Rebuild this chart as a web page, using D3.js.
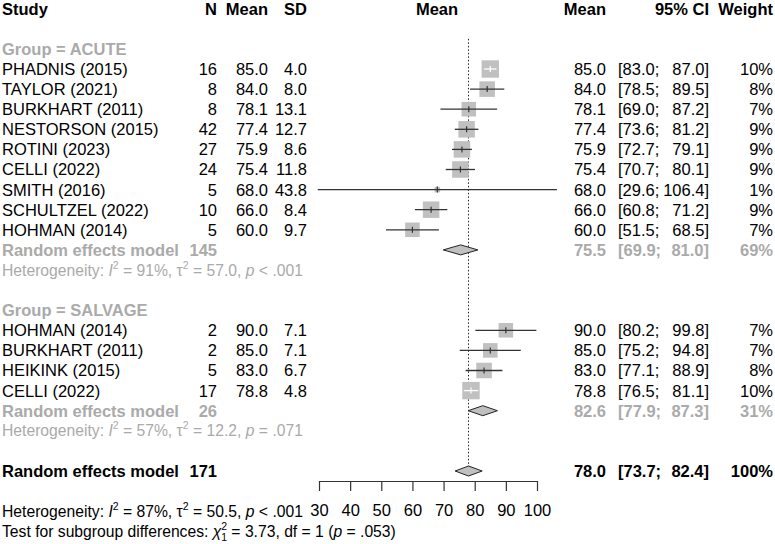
<!DOCTYPE html>
<html>
<head>
<meta charset="utf-8">
<script src="https://cdn.jsdelivr.net/npm/d3@7"></script>
<style>
  body { margin: 0; background: #fff; }
  text { font-family: "Liberation Sans", Arial, sans-serif; font-size: 16.5px; }
</style>
</head>
<body>
<div id="content"></div>
<script>
// study level data, group ACUTE
var acuteStudy = ['PHADNIS (2015)', 'TAYLOR (2021)', 'BURKHART (2011)', 'NESTORSON (2015)', 'ROTINI (2023)',
                  'CELLI (2022)', 'SMITH (2016)', 'SCHULTZEL (2022)', 'HOHMAN (2014)'];
var acuteN = [16, 8, 8, 42, 27, 24, 5, 10, 5];
var acuteMean = [85.0, 84.0, 78.1, 77.4, 75.9, 75.4, 68.0, 66.0, 60.0];
var acuteSD = [4.0, 8.0, 13.1, 12.7, 8.6, 11.8, 43.8, 8.4, 9.7];
var acuteLower = [83.0, 78.5, 69.0, 73.6, 72.7, 70.7, 29.6, 60.8, 51.5];
var acuteUpper = [87.0, 89.5, 87.2, 81.2, 79.1, 80.1, 106.4, 71.2, 68.5];
var acuteWeight = [10, 8, 7, 9, 9, 9, 1, 9, 7];

// study level data, group SALVAGE
var salvageStudy = ['HOHMAN (2014)', 'BURKHART (2011)', 'HEIKINK (2015)', 'CELLI (2022)'];
var salvageN = [2, 2, 5, 17];
var salvageMean = [90.0, 85.0, 83.0, 78.8];
var salvageSD = [7.1, 7.1, 6.7, 4.8];
var salvageLower = [80.2, 75.2, 77.1, 76.5];
var salvageUpper = [99.8, 94.8, 88.9, 81.1];
var salvageWeight = [7, 7, 8, 10];

// pooled estimates: acute, salvage, overall
var modelN = [145, 26, 171];
var modelMean = [75.5, 82.6, 78.0];
var modelLower = [69.9, 77.9, 73.7];
var modelUpper = [81.0, 87.3, 82.4];
var modelWeight = [69, 31, 100];

// heterogeneity: I2, tau2, p
var hetI2 = ['91%', '57%', '87%'];
var hetTau2 = ['57.0', '12.2', '50.5'];
var hetP = ['< .001', '= .071', '< .001'];

var axisTicks = [30, 40, 50, 60, 70, 80, 90, 100];

(function() {

  var grey = '#aaaaaa';
  var sqFill = '#c0c0c0';

  var svg = d3.select('#content')
      .append('svg')
      .attr('width', 775)
      .attr('height', 544);

  // x scale for the plot column
  var x = d3.scaleLinear().domain([30, 100]).range([319, 537]);

  // row positions
  var row = function(k) { return 8.7 + 20.1 * k; };

  // column positions (right aligned unless noted)
  var col = {study: 2, n: 217, mean: 268, sd: 307, est: 606, ciL: 618, ciR: 709, w: 773, plot: 437};

  function txt(xp, yp, s, anchor, opts) {
    opts = opts || {};
    return svg.append('text')
        .attr('x', xp)
        .attr('y', yp)
        .attr('dy', '0.36em')
        .style('text-anchor', anchor)
        .style('font-weight', opts.bold ? 'bold' : 'normal')
        .attr('fill', opts.color || '#000')
        .text(s);
  }

  function ciText(yp, est, lo, hi, w, opts) {
    txt(col.est, yp, est.toFixed(1), 'end', opts);
    txt(col.ciL, yp, '[' + lo.toFixed(1) + ';', 'start', opts);
    txt(col.ciR, yp, hi.toFixed(1) + ']', 'end', opts);
    txt(col.w, yp, w + '%', 'end', opts);
  }

  // header
  txt(col.study, row(0), 'Study', 'start', {bold: true});
  txt(col.n, row(0), 'N', 'end', {bold: true});
  txt(col.mean, row(0), 'Mean', 'end', {bold: true});
  txt(col.sd, row(0), 'SD', 'end', {bold: true});
  txt(col.plot, row(0), 'Mean', 'middle', {bold: true});
  txt(col.est, row(0), 'Mean', 'end', {bold: true});
  txt(col.ciR, row(0), '95% CI', 'end', {bold: true});
  txt(col.w, row(0), 'Weight', 'end', {bold: true});

  // reference line at overall mean
  svg.append('line')
      .attr('x1', x(modelMean[2])).attr('x2', x(modelMean[2]))
      .attr('y1', row(1.5)).attr('y2', row(23))
      .attr('stroke', '#222')
      .attr('stroke-width', 1)
      .attr('stroke-dasharray', '1.5,2');

  function studyRow(k, name, n, m, sd, lo, hi, w) {
    var yp = row(k);
    txt(col.study, yp, name, 'start');
    txt(col.n, yp, n, 'end');
    txt(col.mean, yp, m.toFixed(1), 'end');
    txt(col.sd, yp, sd.toFixed(1), 'end');
    ciText(yp, m, lo, hi, w);

    var half = 2.75 * Math.sqrt(w);
    var inside = x(lo) >= x(m) - half && x(hi) <= x(m) + half;
    var lineCol = inside ? '#fff' : '#333';
    svg.append('rect')
        .attr('x', x(m) - half)
        .attr('y', yp - half)
        .attr('width', half * 2)
        .attr('height', half * 2)
        .attr('fill', sqFill);
    svg.append('line')
        .attr('x1', x(lo)).attr('x2', x(hi))
        .attr('y1', yp).attr('y2', yp)
        .attr('stroke', lineCol)
        .attr('stroke-width', 1.3);
    svg.append('line')
        .attr('x1', x(m)).attr('x2', x(m))
        .attr('y1', yp - 3).attr('y2', yp + 3)
        .attr('stroke', lineCol)
        .attr('stroke-width', 1.2);
  }

  function diamond(yp, m, lo, hi) {
    var pts = [[x(lo), yp], [x(m), yp - 5], [x(hi), yp], [x(m), yp + 5]];
    svg.append('path')
        .attr('d', d3.line()(pts) + 'Z')
        .attr('fill', sqFill)
        .attr('stroke', '#222')
        .attr('stroke-width', 1);
  }

  function modelRow(k, i, color) {
    var opts = {bold: true, color: color};
    txt(col.study, row(k), 'Random effects model', 'start', opts);
    txt(col.n, row(k), modelN[i], 'end', opts);
    ciText(row(k), modelMean[i], modelLower[i], modelUpper[i], modelWeight[i], opts);
    diamond(row(k), modelMean[i], modelLower[i], modelUpper[i]);
  }

  function hetRow(k, i, color) {
    var t = svg.append('text')
        .attr('x', col.study)
        .attr('y', row(k))
        .attr('dy', '0.36em')
        .style('font-size', '15.7px')
        .attr('fill', color);
    t.append('tspan').text('Heterogeneity: ');
    t.append('tspan').style('font-style', 'italic').text('I');
    t.append('tspan').attr('dy', -7).style('font-size', '10.5px').text('2');
    t.append('tspan').attr('dy', 7).text(' = ' + hetI2[i] + ', \u03c4');
    t.append('tspan').attr('dy', -7).style('font-size', '10.5px').text('2');
    t.append('tspan').attr('dy', 7).text(' = ' + hetTau2[i] + ', ');
    t.append('tspan').style('font-style', 'italic').text('p');
    t.append('tspan').text(' ' + hetP[i]);
  }

  // group ACUTE
  txt(col.study, row(2), 'Group = ACUTE', 'start', {bold: true, color: grey});
  acuteStudy.forEach(function(s, i) {
    studyRow(3 + i, s, acuteN[i], acuteMean[i], acuteSD[i], acuteLower[i], acuteUpper[i], acuteWeight[i]);
  });
  modelRow(12, 0, grey);
  hetRow(13, 0, grey);

  // group SALVAGE
  txt(col.study, row(15), 'Group = SALVAGE', 'start', {bold: true, color: grey});
  salvageStudy.forEach(function(s, i) {
    studyRow(16 + i, s, salvageN[i], salvageMean[i], salvageSD[i], salvageLower[i], salvageUpper[i], salvageWeight[i]);
  });
  modelRow(20, 1, grey);
  hetRow(21, 1, grey);

  // overall
  modelRow(23, 2, '#000');
  hetRow(25, 2, '#000');

  // subgroup test
  var t = svg.append('text')
      .attr('x', col.study)
      .attr('y', row(26))
      .attr('dy', '0.36em')
      .style('font-size', '15.7px');
  t.append('tspan').text('Test for subgroup differences: ');
  t.append('tspan').style('font-style', 'italic').text('\u03c7');
  t.append('tspan').attr('dy', -7).style('font-size', '10.5px').text('2');
  t.append('tspan').attr('dx', -6).attr('dy', 11).style('font-size', '10.5px').text('1');
  t.append('tspan').attr('dy', -4).text(' = 3.73, df = 1 (');
  t.append('tspan').style('font-style', 'italic').text('p');
  t.append('tspan').text(' = .053)');

  // x axis
  var axisG = svg.append('g')
      .attr('transform', 'translate(0,481)')
      .call(d3.axisBottom(x).tickValues(axisTicks).tickSize(10).tickPadding(13).tickSizeOuter(0));
  axisG.select('.domain').attr('stroke', '#333').attr('stroke-width', 1.2);
  axisG.selectAll('.tick line').attr('stroke', '#333').attr('stroke-width', 1.2);
  axisG.selectAll('.tick text')
      .style('font-size', '16.5px')
      .style('font-family', '"Liberation Sans", Arial, sans-serif')
      .attr('fill', '#000');

})();
</script>
</body>
</html>
